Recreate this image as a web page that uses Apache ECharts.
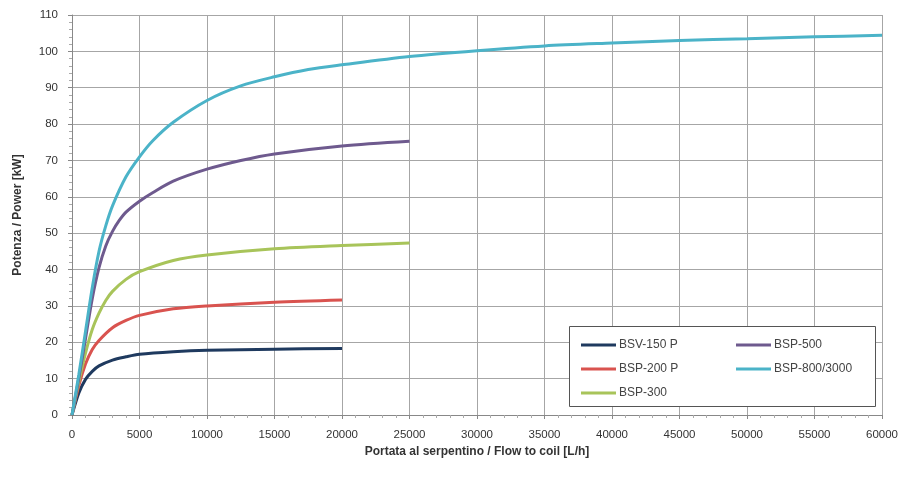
<!DOCTYPE html>
<html>
<head>
<meta charset="utf-8">
<script src="https://cdn.jsdelivr.net/npm/echarts@6/dist/echarts.min.js"></script>
<style>html,body{margin:0;padding:0;background:#fff}#c{width:904px;height:477px}</style>
</head>
<body>
<div id="c"></div>
<script>
var seriesNames = ['BSV-150 P', 'BSP-200 P', 'BSP-300', 'BSP-500', 'BSP-800/3000'];
var xTicks = [0, 5000, 10000, 15000, 20000, 25000, 30000, 35000, 40000, 45000, 50000, 55000, 60000];
var yTicks = [0, 10, 20, 30, 40, 50, 60, 70, 80, 90, 100, 110];

var bsv150x = [0, 500, 1000, 1500, 2000, 3000, 4000, 5000, 7500, 10000, 15000, 20000];
var bsv150y = [0, 6, 9.8, 12, 13.5, 15.1, 16, 16.7, 17.4, 17.8, 18.1, 18.3];

var bsp200x = [0, 500, 1000, 1500, 2000, 3000, 4000, 5000, 7500, 10000, 15000, 20000];
var bsp200y = [0, 8, 14, 18, 20.5, 24, 26, 27.4, 29.2, 30, 31, 31.6];

var bsp300x = [0, 500, 1000, 1500, 2000, 2500, 3000, 4000, 5000, 7500, 10000, 15000, 20000, 25000];
var bsp300y = [0, 9, 17, 23.5, 28, 31.5, 34, 37.3, 39.4, 42.5, 44, 45.7, 46.6, 47.3];

var bsp500x = [0, 500, 1000, 1500, 2000, 2500, 3000, 3500, 4000, 5000, 6000, 7500, 10000, 12500, 15000, 20000, 25000];
var bsp500y = [0, 10, 21, 32, 40.5, 46.5, 50.5, 53.5, 55.8, 58.8, 61.2, 64.3, 67.6, 70, 71.8, 74, 75.3];

var bsp800x = [0, 500, 1000, 1500, 2000, 2500, 3000, 4000, 5000, 6000, 7500, 10000, 12500, 15000, 17500, 20000, 25000, 30000, 35000, 40000, 45000, 50000, 55000, 60000];
var bsp800y = [0, 11, 23, 35, 45, 52, 57.5, 65.5, 71, 75.5, 80.5, 86.5, 90.5, 93, 95, 96.3, 98.6, 100.2, 101.5, 102.3, 103, 103.5, 104, 104.4];

var colors = ['#1f3a5f', '#d9534f', '#a8c45a', '#6e5a8e', '#4bb3c8'];

function pairs(xs, ys) { return xs.map(function (x, i) { return [x, ys[i]]; }); }
var allData = [pairs(bsv150x, bsv150y), pairs(bsp200x, bsp200y), pairs(bsp300x, bsp300y), pairs(bsp500x, bsp500y), pairs(bsp800x, bsp800y)];

var chart = echarts.init(document.getElementById('c'));
var font = 'Liberation Sans';
chart.setOption({
  animation: false,
  textStyle: { fontFamily: font },
  grid: { left: 72, right: 22, top: 15, bottom: 62 },
  xAxis: {
    type: 'value', min: xTicks[0], max: xTicks[xTicks.length - 1], interval: 5000,
    name: 'Portata al serpentino / Flow to coil [L/h]', nameLocation: 'middle', nameGap: 28,
    nameTextStyle: { fontWeight: 'bold', fontSize: 12, color: '#333', fontFamily: font },
    axisLine: { show: true, lineStyle: { color: '#888' } },
    axisTick: { show: true, length: 4, lineStyle: { color: '#888' } },
    minorTick: { show: true, splitNumber: 5, length: 3, lineStyle: { color: '#aaa' } },
    axisLabel: { fontSize: 11.5, color: '#333', margin: 14, fontFamily: font, formatter: function (v) { return String(v); } },
    splitLine: { show: true, lineStyle: { color: '#a6a6a6', width: 1 } }
  },
  yAxis: {
    type: 'value', min: yTicks[0], max: yTicks[yTicks.length - 1], interval: 10,
    name: 'Potenza / Power [kW]', nameLocation: 'middle', nameGap: 48,
    nameTextStyle: { fontWeight: 'bold', fontSize: 12, color: '#333', fontFamily: font },
    axisLine: { show: true, lineStyle: { color: '#888' } },
    axisTick: { show: true, length: 4, lineStyle: { color: '#888' } },
    minorTick: { show: true, splitNumber: 5, length: 3, lineStyle: { color: '#aaa' } },
    axisLabel: { fontSize: 11.5, color: '#333', margin: 14, fontFamily: font },
    splitLine: { show: true, lineStyle: { color: '#a6a6a6', width: 1 } }
  },
  graphic: [{
    type: 'rect', left: 569, top: 326, z: 90,
    shape: { width: 306, height: 80 },
    style: { fill: '#fff', stroke: '#555', lineWidth: 1 }
  }],
  legend: [{
    data: [seriesNames[0], seriesNames[1], seriesNames[2]],
    orient: 'vertical', left: 576, top: 334, itemGap: 12, z: 100,
    icon: 'rect', itemWidth: 35, itemHeight: 3,
    textStyle: { fontSize: 12, color: '#444', fontFamily: font, padding: [0, 0, 0, -2] }
  }, {
    data: [seriesNames[3], seriesNames[4]],
    orient: 'vertical', left: 731, top: 334, itemGap: 12, z: 100,
    icon: 'rect', itemWidth: 35, itemHeight: 3,
    textStyle: { fontSize: 12, color: '#444', fontFamily: font, padding: [0, 0, 0, -2] }
  }],
  series: seriesNames.map(function (n, i) {
    return {
      name: n, type: 'line', data: allData[i], smooth: 0.3,
      showSymbol: false, color: colors[i],
      lineStyle: { width: 3, color: colors[i] }
    };
  })
});
</script>
</body>
</html>
